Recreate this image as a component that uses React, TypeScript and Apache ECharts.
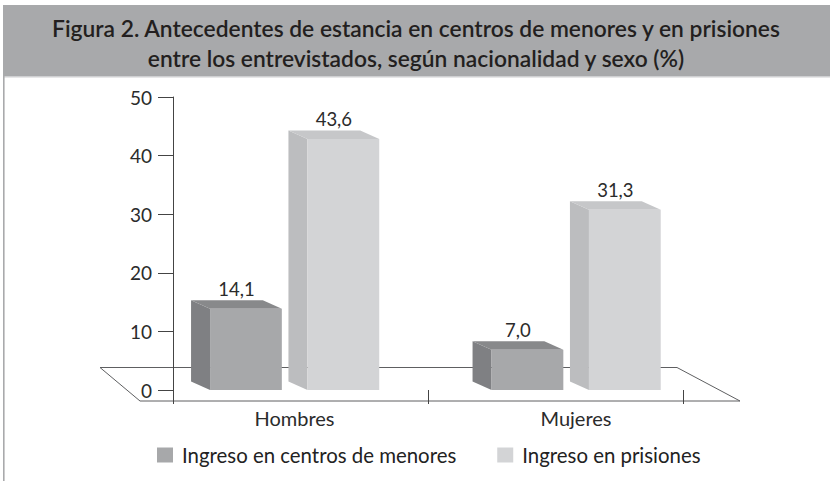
import React, { useEffect, useRef } from "react";
import * as echarts from "echarts";

const categories = ["Hombres", "Mujeres"];
const seriesNames = ["Ingreso en centros de menores", "Ingreso en prisiones"];
const menores = [14.1, 7.0];
const prisiones = [43.6, 31.3];
const yMin = 0;
const yMax = 50;
const yInterval = 10;

const FONT = "Lato, 'Open Sans', sans-serif";

const palettes = [
  { front: "#a7a8aa", side: "#7f8083", top: "#88898b" },
  { front: "#d3d4d6", side: "#bcbdbf", top: "#c6c7c9" },
];

function fmt(v: number) {
  return v.toFixed(1).replace(".", ",");
}

function makeRender(s: number) {
  const pal = palettes[s];
  return (params: any, api: any) => {
    const cat = api.value(0);
    const v = api.value(1);
    const top = api.coord([cat, v]);
    const base = api.coord([cat, 0]);
    const band = api.size([1, 0])[0];
    const cx = top[0];
    const w = band * 0.255;
    const x0 = s === 0 ? cx - band * 0.3 : cx + band * 0.046;
    const x1 = x0 + w;
    const dx = -19;
    const dy = -8.5;
    const yT = top[1];
    const yB = base[1];
    return {
      type: "group",
      children: [
        {
          type: "polygon",
          shape: {
            points: [
              [x0, yT],
              [x0 + dx, yT + dy],
              [x0 + dx, yB + dy],
              [x0, yB],
            ],
          },
          style: { fill: pal.side },
        },
        {
          type: "polygon",
          shape: {
            points: [
              [x0, yT],
              [x1, yT],
              [x1 + dx, yT + dy],
              [x0 + dx, yT + dy],
            ],
          },
          style: { fill: pal.top },
        },
        {
          type: "rect",
          shape: { x: x0, y: yT, width: w, height: yB - yT },
          style: { fill: pal.front },
        },
        {
          type: "text",
          x: (x0 + dx + x1) / 2,
          y: yT + dy - 2,
          style: {
            text: fmt(v),
            fill: "#2b2b2b",
            font: `18.5px ${FONT}`,
            align: "center",
            verticalAlign: "bottom",
          },
        },
      ],
    };
  };
}

export default function App() {
  const ref = useRef<HTMLDivElement>(null);
  useEffect(() => {
    if (!ref.current) return;
    const chart = echarts.init(ref.current, null, { renderer: "svg" });
    const option: any = {
      animation: false,
      backgroundColor: "#ffffff",
      textStyle: { fontFamily: FONT },
      title: {
        text:
          "Figura 2. Antecedentes de estancia en centros de menores y en prisiones\nentre los entrevistados, según nacionalidad y sexo (%)",
        left: 416,
        textAlign: "center",
        top: 13,
        padding: 0,
        textStyle: {
          fontFamily: FONT,
          fontSize: 22.8,
          fontWeight: 600,
          lineHeight: 30,
          color: "#231f20",
        },
      },
      graphic: [
        {
          type: "rect",
          shape: { x: 3, y: 5, width: 827, height: 71 },
          style: { fill: "#a8a9ab" },
          z: -10,
        },
        {
          type: "rect",
          shape: { x: 3, y: 76, width: 827, height: 1.5 },
          style: { fill: "#cfd0d2" },
          z: -10,
        },
        {
          type: "rect",
          shape: { x: 3, y: 76, width: 1.6, height: 405 },
          style: { fill: "#a9aaac" },
          z: -10,
        },
        {
          type: "polygon",
          shape: {
            points: [
              [100, 367.5],
              [677, 367.5],
              [740, 401],
              [140, 401],
            ],
          },
          style: { fill: "none", stroke: "#5e5f61", lineWidth: 1 },
          z: 0,
        },
      ],
      legend: {
        data: seriesNames,
        left: 157,
        top: 445,
        padding: 0,
        itemWidth: 16,
        itemHeight: 15,
        itemGap: 41,
        icon: "rect",
        textStyle: {
          fontFamily: FONT,
          fontSize: 20.4,
          color: "#222",
          padding: [0, 0, 0, 4],
        },
      },
      grid: [
        { left: 153.75, right: 113.25, top: 97, bottom: 91 },
        { left: 173, right: 147, top: 97, bottom: 91 },
      ],
      xAxis: [
        {
          type: "category",
          gridIndex: 0,
          data: categories,
          axisLine: { show: false },
          axisTick: { show: false },
          axisLabel: {
            margin: 18,
            fontSize: 20,
            color: "#2b2b2b",
            fontFamily: FONT,
          },
        },
        {
          type: "category",
          gridIndex: 1,
          data: categories,
          offset: 11,
          axisLine: { show: false },
          axisTick: { show: true, length: 14, lineStyle: { color: "#444" } },
          axisLabel: { show: false },
        },
      ],
      yAxis: [
        {
          type: "value",
          gridIndex: 0,
          min: yMin,
          max: 50.9,
          show: false,
          splitLine: { show: false },
        },
        {
          type: "value",
          gridIndex: 1,
          min: yMin,
          max: yMax,
          interval: yInterval,
          axisLine: { show: true, lineStyle: { color: "#444" } },
          axisTick: { show: true, length: 15, lineStyle: { color: "#444" } },
          splitLine: { show: false },
          axisLabel: {
            margin: 21,
            fontSize: 19,
            color: "#2b2b2b",
            fontFamily: FONT,
          },
        },
      ],
      series: [
        {
          name: seriesNames[0],
          type: "custom",
          xAxisIndex: 0,
          yAxisIndex: 0,
          itemStyle: { color: palettes[0].front },
          renderItem: makeRender(0),
          encode: { x: 0, y: 1 },
          data: menores.map((v, i) => [i, v]),
          z: 5,
        },
        {
          name: seriesNames[1],
          type: "custom",
          xAxisIndex: 0,
          yAxisIndex: 0,
          itemStyle: { color: palettes[1].front },
          renderItem: makeRender(1),
          encode: { x: 0, y: 1 },
          data: prisiones.map((v, i) => [i, v]),
          z: 5,
        },
      ],
    };
    chart.setOption(option);
    return () => chart.dispose();
  }, []);
  return (
    <div
      ref={ref}
      style={{ position: "fixed", left: 0, top: 0, width: 830, height: 481 }}
    />
  );
}
